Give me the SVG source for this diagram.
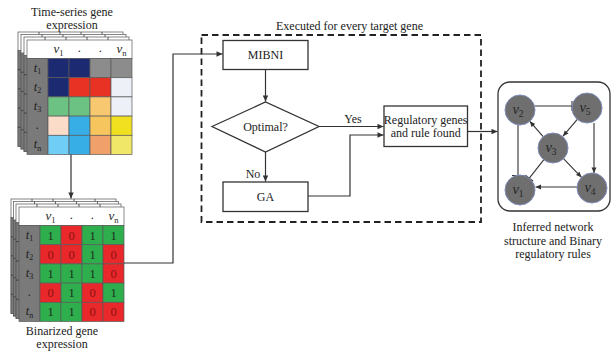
<svg xmlns="http://www.w3.org/2000/svg" xmlns:xlink="http://www.w3.org/1999/xlink" width="611" height="358" viewBox="0 0 611 358">
<style>
text{font-family:"Liberation Serif","Times New Roman",serif;fill:#222}
.lbl{font-size:12px;text-anchor:middle}
.hd{font-size:13px;text-anchor:middle;font-style:italic;fill:#2a2a2a}
.rl{font-size:12.5px;text-anchor:middle;font-style:italic;fill:#1e1e1e}
.dig1{font-size:12.5px;text-anchor:middle;fill:#1b2a1b}
.dig0{font-size:12.5px;text-anchor:middle;fill:#8e1212}
.cell{stroke:#5a5a5a;stroke-width:0.7}
.box{fill:#fff;stroke:#333;stroke-width:1.3}
.con{fill:none;stroke:#333;stroke-width:1.2}
.ed{fill:none;stroke:#333;stroke-width:1.1}
.node{fill:#6f6f6f;stroke:#7f8cbd;stroke-width:1}
.nl{font-size:14.5px;text-anchor:middle;font-style:italic;fill:#262626}
</style>
<defs>
<marker id="ah" viewBox="0 0 10 10" refX="10" refY="5" markerWidth="7" markerHeight="6" markerUnits="userSpaceOnUse" orient="auto"><path d="M0,0.5 L10,5 L0,9.5 z" fill="#333"/></marker>
<marker id="ahs" viewBox="0 0 10 10" refX="10" refY="5" markerWidth="6" markerHeight="5.5" markerUnits="userSpaceOnUse" orient="auto"><path d="M0,0.5 L10,5 L0,9.5 z" fill="#333"/></marker>
<g id="page">
<rect width="105" height="114.5" fill="#fff" stroke="#666" stroke-width="0.8"/>
<rect y="18.5" width="21" height="96" fill="#7a7a7a" stroke="#555" stroke-width="0.7"/>
<path d="M21,0V18.5M42,0V18.5M63,0V18.5M84,0V18.5M0,37.7H21M0,56.9H21M0,76.1H21M0,95.3H21" stroke="#333" stroke-width="0.8"/>
</g>
</defs>

<!-- Time-series table -->
<g id="timeseries">
<text class="lbl" x="72" y="15.5" font-size="11.7">Time-series gene</text>
<text class="lbl" x="72" y="28.5" font-size="11.7">expression</text>
<use xlink:href="#page" x="18" y="32"/>
<use xlink:href="#page" x="21" y="34.5"/>
<use xlink:href="#page" x="24" y="37"/>
<g transform="translate(27,40)">
<rect width="105" height="18.5" fill="#fff" class="cell"/>
<rect y="18.5" width="21" height="96" fill="#7a7a7a" class="cell"/>
<rect x="21" y="18.5" width="21" height="19.2" fill="#1c2a72" class="cell"/>
<rect x="42" y="18.5" width="21" height="19.2" fill="#1c2a72" class="cell"/>
<rect x="63" y="18.5" width="21" height="19.2" fill="#8c8c8c" class="cell"/>
<rect x="84" y="18.5" width="21" height="19.2" fill="#8c8c8c" class="cell"/>
<rect x="21" y="37.7" width="21" height="19.2" fill="#1c2a72" class="cell"/>
<rect x="42" y="37.7" width="21" height="19.2" fill="#e83224" class="cell"/>
<rect x="63" y="37.7" width="21" height="19.2" fill="#e83224" class="cell"/>
<rect x="84" y="37.7" width="21" height="19.2" fill="#eef0f8" class="cell"/>
<rect x="21" y="56.9" width="21" height="19.2" fill="#6cc283" class="cell"/>
<rect x="42" y="56.9" width="21" height="19.2" fill="#6cc283" class="cell"/>
<rect x="63" y="56.9" width="21" height="19.2" fill="#f8c870" class="cell"/>
<rect x="84" y="56.9" width="21" height="19.2" fill="#eef0f8" class="cell"/>
<rect x="21" y="76.1" width="21" height="19.2" fill="#fadcc8" class="cell"/>
<rect x="42" y="76.1" width="21" height="19.2" fill="#38aee6" class="cell"/>
<rect x="63" y="76.1" width="21" height="19.2" fill="#f6c55e" class="cell"/>
<rect x="84" y="76.1" width="21" height="19.2" fill="#f0e020" class="cell"/>
<rect x="21" y="95.3" width="21" height="19.2" fill="#70cdf5" class="cell"/>
<rect x="42" y="95.3" width="21" height="19.2" fill="#38aee6" class="cell"/>
<rect x="63" y="95.3" width="21" height="19.2" fill="#f0a06a" class="cell"/>
<rect x="84" y="95.3" width="21" height="19.2" fill="#f0e668" class="cell"/>
<text class="hd" x="31.5" y="13">v<tspan font-size="8.5" dy="2.5" font-style="normal">1</tspan></text>
<text class="hd" x="52.5" y="12">.</text>
<text class="hd" x="73.5" y="12">.</text>
<text class="hd" x="94.5" y="13">v<tspan font-size="8.5" dy="2.5" font-style="normal">n</tspan></text>
<text class="rl" x="10.5" y="31.5">t<tspan font-size="8" dy="2.5" font-style="normal">1</tspan></text>
<text class="rl" x="10.5" y="50.7">t<tspan font-size="8" dy="2.5" font-style="normal">2</tspan></text>
<text class="rl" x="10.5" y="69.9">t<tspan font-size="8" dy="2.5" font-style="normal">3</tspan></text>
<text class="rl" x="10.5" y="88.5">.</text>
<text class="rl" x="10.5" y="108.3">t<tspan font-size="8" dy="2.5" font-style="normal">n</tspan></text>
</g>
</g>

<!-- Binarized table -->
<g id="binarized">
<use xlink:href="#page" x="11" y="199"/>
<use xlink:href="#page" x="13.5" y="201.5"/>
<use xlink:href="#page" x="16" y="204"/>
<g transform="translate(19,207)">
<rect width="105" height="18.5" fill="#fff" class="cell"/>
<rect y="18.5" width="21" height="96" fill="#7a7a7a" class="cell"/>
<g class="cell">
<rect x="21" y="18.5" width="21" height="19.2" fill="#2fae4e"/>
<rect x="42" y="18.5" width="21" height="19.2" fill="#e8282a"/>
<rect x="63" y="18.5" width="21" height="19.2" fill="#2fae4e"/>
<rect x="84" y="18.5" width="21" height="19.2" fill="#2fae4e"/>
<rect x="21" y="37.7" width="21" height="19.2" fill="#e8282a"/>
<rect x="42" y="37.7" width="21" height="19.2" fill="#e8282a"/>
<rect x="63" y="37.7" width="21" height="19.2" fill="#2fae4e"/>
<rect x="84" y="37.7" width="21" height="19.2" fill="#e8282a"/>
<rect x="21" y="56.9" width="21" height="19.2" fill="#2fae4e"/>
<rect x="42" y="56.9" width="21" height="19.2" fill="#2fae4e"/>
<rect x="63" y="56.9" width="21" height="19.2" fill="#2fae4e"/>
<rect x="84" y="56.9" width="21" height="19.2" fill="#e8282a"/>
<rect x="21" y="76.1" width="21" height="19.2" fill="#e8282a"/>
<rect x="42" y="76.1" width="21" height="19.2" fill="#2fae4e"/>
<rect x="63" y="76.1" width="21" height="19.2" fill="#e8282a"/>
<rect x="84" y="76.1" width="21" height="19.2" fill="#2fae4e"/>
<rect x="21" y="95.3" width="21" height="19.2" fill="#2fae4e"/>
<rect x="42" y="95.3" width="21" height="19.2" fill="#2fae4e"/>
<rect x="63" y="95.3" width="21" height="19.2" fill="#e8282a"/>
<rect x="84" y="95.3" width="21" height="19.2" fill="#e8282a"/>
</g>
<text class="hd" x="31.5" y="13">v<tspan font-size="8.5" dy="2.5" font-style="normal">1</tspan></text>
<text class="hd" x="52.5" y="12">.</text>
<text class="hd" x="73.5" y="12">.</text>
<text class="hd" x="94.5" y="13">v<tspan font-size="8.5" dy="2.5" font-style="normal">n</tspan></text>
<text class="rl" x="10.5" y="31.5">t<tspan font-size="8" dy="2.5" font-style="normal">1</tspan></text>
<text class="rl" x="10.5" y="50.7">t<tspan font-size="8" dy="2.5" font-style="normal">2</tspan></text>
<text class="rl" x="10.5" y="69.9">t<tspan font-size="8" dy="2.5" font-style="normal">3</tspan></text>
<text class="rl" x="10.5" y="88.5">.</text>
<text class="rl" x="10.5" y="108.3">t<tspan font-size="8" dy="2.5" font-style="normal">n</tspan></text>
<text class="dig1" x="31.5" y="32.5">1</text><text class="dig0" x="52.5" y="32.5">0</text><text class="dig1" x="73.5" y="32.5">1</text><text class="dig1" x="94.5" y="32.5">1</text>
<text class="dig0" x="31.5" y="51.7">0</text><text class="dig0" x="52.5" y="51.7">0</text><text class="dig1" x="73.5" y="51.7">1</text><text class="dig0" x="94.5" y="51.7">0</text>
<text class="dig1" x="31.5" y="70.9">1</text><text class="dig1" x="52.5" y="70.9">1</text><text class="dig1" x="73.5" y="70.9">1</text><text class="dig0" x="94.5" y="70.9">0</text>
<text class="dig0" x="31.5" y="90.1">0</text><text class="dig1" x="52.5" y="90.1">1</text><text class="dig0" x="73.5" y="90.1">0</text><text class="dig1" x="94.5" y="90.1">1</text>
<text class="dig1" x="31.5" y="109.3">1</text><text class="dig1" x="52.5" y="109.3">1</text><text class="dig0" x="73.5" y="109.3">0</text><text class="dig0" x="94.5" y="109.3">0</text>
</g>
<text class="lbl" x="62" y="335">Binarized gene</text>
<text class="lbl" x="62" y="347.5">expression</text>
</g>

<!-- Dashed container -->
<g id="loop">
<rect x="201.5" y="35" width="279.5" height="187" fill="none" stroke="#222" stroke-width="1.8" stroke-dasharray="6.5,4"/>
<text class="lbl" x="349.5" y="30" font-size="12.5">Executed for every target gene</text>
</g>

<g id="mibni">
<rect class="box" x="223" y="40.5" width="85" height="29"/>
<text class="lbl" x="265.5" y="59.3">MIBNI</text>
</g>
<g id="optimal">
<path class="box" d="M212,126.5 L265.5,102 L319,126.5 L265.5,152 z"/>
<text class="lbl" x="265.5" y="130.5" font-size="11">Optimal?</text>
</g>
<g id="ga">
<rect class="box" x="223" y="182" width="85" height="29.5"/>
<text class="lbl" x="265.5" y="201" font-size="12.5">GA</text>
</g>
<g id="regulatory">
<rect class="box" x="384" y="106" width="83.5" height="40.5"/>
<text class="lbl" x="425.7" y="124" font-size="10">Regulatory genes</text>
<text class="lbl" x="425.7" y="136.5" font-size="10">and rule found</text>
</g>

<!-- Network -->
<g id="network">
<rect x="498" y="82" width="112" height="129" rx="12" fill="#fff" stroke="#333" stroke-width="1.3"/>
<g id="net-edges">
<path class="ed" d="M535,106 H572 M572,101 V111"/>
<path class="ed" d="M577.3,119.4 L563,136.2" marker-end="url(#ahs)"/>
<path class="ed" d="M543.2,136.7 L529.8,121.3" marker-end="url(#ahs)"/>
<path class="ed" d="M594,123 V173" marker-end="url(#ahs)"/>
<path class="ed" d="M563.5,158.7 L581.5,177.3" marker-end="url(#ahs)"/>
<path class="ed" d="M577,187 H535.5" marker-end="url(#ahs)"/>
<path class="ed" d="M543.7,159.8 L529.3,178.2 M525.4,175.1 L533.2,181.3"/>
<path class="ed" d="M518,124.5 V175.5 M512,175.5 H524.5"/>
</g>
<g id="v2"><circle class="node" cx="520" cy="110" r="15"/><text class="nl" x="518" y="114">v<tspan font-size="9.5" dy="3" font-style="normal">2</tspan></text></g>
<g id="v5"><circle class="node" cx="587" cy="108" r="15"/><text class="nl" x="585" y="112">v<tspan font-size="9.5" dy="3" font-style="normal">5</tspan></text></g>
<g id="v3"><circle class="node" cx="553" cy="148" r="15"/><text class="nl" x="551" y="152">v<tspan font-size="9.5" dy="3" font-style="normal">3</tspan></text></g>
<g id="v1"><circle class="node" cx="520" cy="190" r="15"/><text class="nl" x="518" y="194">v<tspan font-size="9.5" dy="3" font-style="normal">1</tspan></text></g>
<g id="v4"><circle class="node" cx="592" cy="188" r="15"/><text class="nl" x="590" y="192">v<tspan font-size="9.5" dy="3" font-style="normal">4</tspan></text></g>
<text class="lbl" x="553" y="230.5">Inferred network</text>
<text class="lbl" x="553" y="244.5">structure and Binary</text>
<text class="lbl" x="553" y="258">regulatory rules</text>
</g>

<!-- Connectors -->
<g id="connectors">
<path class="con" d="M71,154.5 V198.5" marker-end="url(#ah)"/>
<path class="con" d="M124,263 H173 V54 H222.5" marker-end="url(#ah)"/>
<path class="con" d="M265.5,69.5 V101.5" marker-end="url(#ah)"/>
<path class="con" d="M319,126.5 H383.5" marker-end="url(#ah)"/>
<path class="con" d="M265.5,152 V181.5" marker-end="url(#ah)"/>
<path class="con" d="M308,196 H350 V135 H383.5" marker-end="url(#ah)"/>
<path class="con" d="M467.5,131.5 H497.5" marker-end="url(#ah)"/>
<text class="lbl" x="353" y="123" font-size="11">Yes</text>
<text class="lbl" x="253" y="178">No</text>
</g>
</svg>
